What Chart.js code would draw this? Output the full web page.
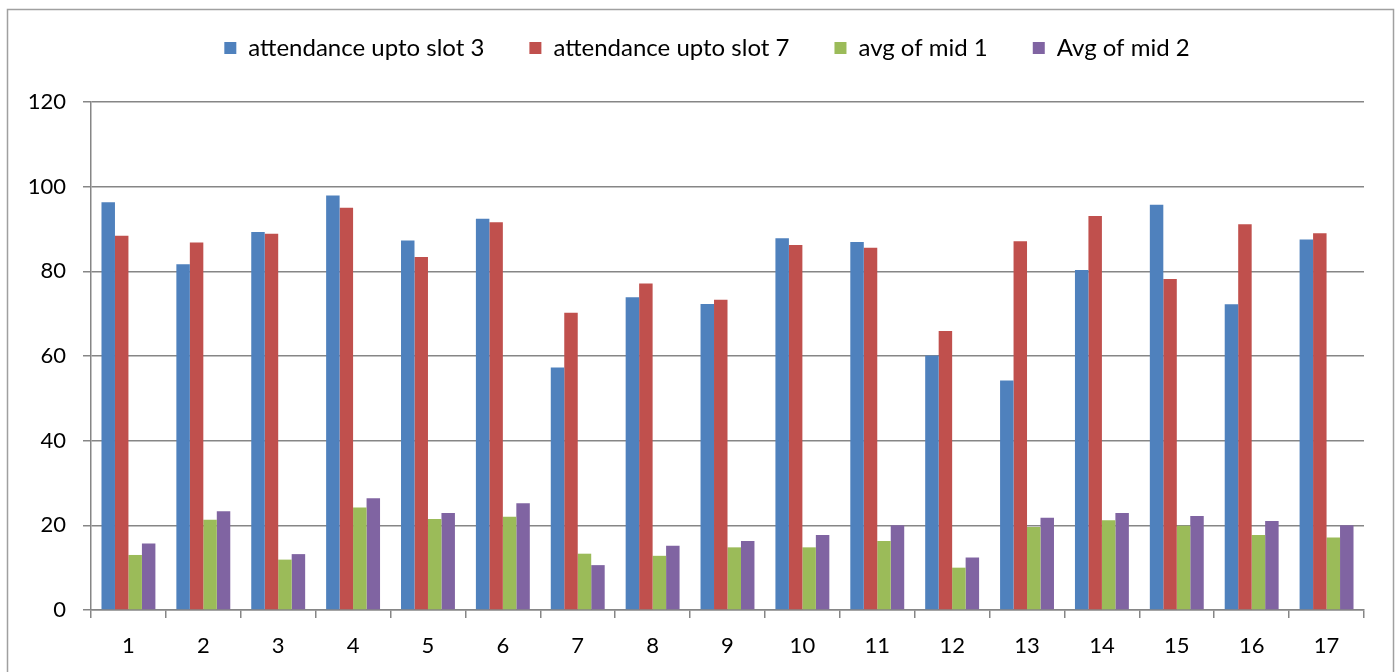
<!DOCTYPE html>
<html>
<head>
<meta charset="utf-8">
<title>Attendance and mid averages</title>
<script src="https://cdn.jsdelivr.net/npm/chart.js@4/dist/chart.umd.min.js"></script>
<style>
  html, body { margin: 0; padding: 0; background: #ffffff; }
  #chart { display: block; }
</style>
</head>
<body>
<canvas id="chart" width="1398" height="672"></canvas>
<script>
// Chart data
const categories = ["1", "2", "3", "4", "5", "6", "7", "8", "9", "10", "11", "12", "13", "14", "15", "16", "17"];
const slot3 = [96.3, 81.7, 89.3, 97.9, 87.3, 92.4, 57.3, 73.9, 72.3, 87.8, 86.9, 60.1, 54.2, 80.3, 95.7, 72.2, 87.5];
const slot7 = [88.4, 86.8, 88.9, 95.0, 83.4, 91.6, 70.2, 77.1, 73.3, 86.2, 85.6, 65.9, 87.1, 93.1, 78.2, 91.1, 89.0];
const mid1 = [13.0, 21.3, 11.9, 24.2, 21.5, 22.0, 13.3, 12.8, 14.8, 14.8, 16.3, 10.0, 19.6, 21.2, 19.9, 17.7, 17.1];
const mid2 = [15.7, 23.3, 13.2, 26.4, 22.9, 25.2, 10.6, 15.2, 16.3, 17.7, 20.0, 12.4, 21.8, 22.9, 22.2, 21.0, 20.0];
const yTicks = [0, 20, 40, 60, 80, 100, 120];

const FONT = "Lato, 'Open Sans', sans-serif";
const GRID = "#868686";

// legend box gets a fixed height so the plot starts where the reference does
const legendHeight = {
  id: "legendHeight",
  beforeInit(chart) {
    const legend = chart.legend;
    const fit = legend.fit;
    legend.fit = function () {
      fit.call(this);
      this.height = 111;
    };
  }
};

// light frame round the whole chart
const frame = {
  id: "frame",
  beforeDraw(chart) {
    const ctx = chart.ctx;
    ctx.save();
    ctx.fillStyle = "#ffffff";
    ctx.fillRect(0, 0, chart.width, chart.height);
    ctx.strokeStyle = "#a0a0a0";
    ctx.lineWidth = 1.5;
    ctx.strokeRect(7.5, 9.5, 1386, 700);
    ctx.restore();
  }
};

new Chart("chart", {
  type: "bar",
  data: {
    labels: categories,
    datasets: [
      { label: "attendance upto slot 3", data: slot3, backgroundColor: "#4F81BD" },
      { label: "attendance upto slot 7", data: slot7, backgroundColor: "#C0504D" },
      { label: "avg of mid 1", data: mid1, backgroundColor: "#9BBB59" },
      { label: "Avg of mid 2", data: mid2, backgroundColor: "#8064A2" }
    ]
  },
  options: {
    responsive: false,
    animation: false,
    layout: { padding: { top: -9, left: 16, right: 0, bottom: 0 } },
    datasets: {
      bar: { categoryPercentage: 0.72, barPercentage: 1.0, borderWidth: 0 }
    },
    plugins: {
      legend: {
        position: "top",
        labels: {
          font: { family: FONT, size: 24 },
          color: "#000000",
          boxWidth: 12,
          boxHeight: 12,
          padding: 45
        }
      },
      tooltip: { enabled: false }
    },
    scales: {
      x: {
        offset: true,
        grid: { offset: true, drawOnChartArea: false, color: GRID, lineWidth: 1.5, tickLength: 8 },
        border: { color: GRID, width: 1.5 },
        ticks: { font: { family: FONT, size: 22 }, color: "#000000", padding: 15 },
        afterFit(scale) { scale.height = 62; }
      },
      y: {
        min: 0,
        max: 120,
        afterBuildTicks(scale) { scale.ticks = yTicks.map(v => ({ value: v })); },
        grid: { color: GRID, lineWidth: 1.5, tickLength: 8 },
        border: { color: GRID, width: 1.5 },
        ticks: { font: { family: FONT, size: 22 }, color: "#000000", padding: 17 },
        afterFit(scale) { scale.width = 75; }
      },
      y2: {
        position: "right",
        grid: { display: false },
        border: { display: false },
        ticks: { display: false },
        afterFit(scale) { scale.width = 34; }
      }
    }
  },
  plugins: [legendHeight, frame]
});
</script>
</body>
</html>
